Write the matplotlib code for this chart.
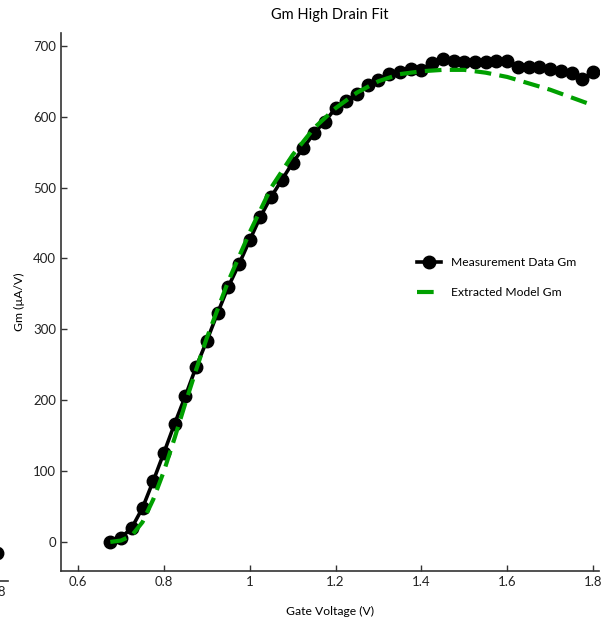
import matplotlib
matplotlib.use("Agg")
import matplotlib.pyplot as plt

plt.rcParams['font.family'] = ['Lato', 'DejaVu Sans']

# Measured transconductance at high drain bias
gate_voltage = [0.675, 0.700, 0.725, 0.750, 0.775, 0.800, 0.825, 0.850, 0.875, 0.900,
                0.925, 0.950, 0.975, 1.000, 1.025, 1.050, 1.075, 1.100, 1.125, 1.150,
                1.175, 1.200, 1.225, 1.250, 1.275, 1.300, 1.325, 1.350, 1.375, 1.400,
                1.425, 1.450, 1.475, 1.500, 1.525, 1.550, 1.575, 1.600, 1.625, 1.650,
                1.675, 1.700, 1.725, 1.750, 1.775, 1.800]
gm_measured = [0, 6, 20, 48, 86, 126, 167, 206, 247, 284,
               323, 360, 392, 426, 459, 487, 511, 535, 556, 577,
               593, 612, 622, 632, 645, 652, 660, 663, 667, 666,
               676, 681, 678, 677, 677, 677, 678, 678, 670, 670,
               670, 667, 664, 661, 653, 663]

# Extracted compact-model transconductance
model_voltage = [0.675, 0.700, 0.725, 0.750, 0.775, 0.800, 0.825, 0.850, 0.875, 0.900,
                 0.950, 1.000, 1.050, 1.100, 1.150, 1.200, 1.250, 1.300, 1.350, 1.400,
                 1.450, 1.500, 1.550, 1.600, 1.650, 1.700, 1.750, 1.800]
gm_model = [0, 2, 9, 28, 60, 100, 147, 196, 243, 288,
            368, 437, 500, 546, 584, 612, 634, 650, 660, 664,
            666, 666, 662, 656, 647, 638, 627, 616]

# Edge of the neighbouring panel
neighbor_x = [1.8]
neighbor_y = [0.051]

fig = plt.figure(figsize=(6.03, 6.23), dpi=100)
W, H = 603, 623

def px_axes(x0, y0, x1, y1):
    return fig.add_axes([x0 / W, 1 - y1 / H, (x1 - x0) / W, (y1 - y0) / H])

ax = px_axes(61, 33, 599, 571)
ax.plot(gate_voltage, gm_measured, color='black', lw=2.6, marker='o', ms=9.0,
        label='Measurement Data Gm', zorder=3)
ax.plot(model_voltage, gm_model, color='#00a000', lw=3.0, dashes=(4, 2),
        label='Extracted Model Gm', zorder=4)

ax.set_xlim(0.56, 1.814)
ax.set_ylim(-41, 718)
ax.set_xticks([0.6, 0.8, 1.0, 1.2, 1.4, 1.6, 1.8])
ax.set_xticklabels(['0.6', '0.8', '1', '1.2', '1.4', '1.6', '1.8'])
ax.set_yticks([0, 100, 200, 300, 400, 500, 600, 700])
for s in ('top', 'right'):
    ax.spines[s].set_visible(False)
for s in ('left', 'bottom'):
    ax.spines[s].set_color('#333333')
    ax.spines[s].set_linewidth(1.2)
ax.tick_params(direction='in', length=4, width=1, colors='#333333',
               labelsize=9.5, labelcolor='#222222', top=False, right=False)
ax.set_xlabel('Gate Voltage (V)', fontsize=8.7, labelpad=13)
ax.set_ylabel('Gm (µA/V)', fontsize=8.7, labelpad=6)
ax.set_title('Gm High Drain Fit', fontsize=10.5, pad=10)
ax.legend(loc='center left', bbox_to_anchor=(0.641, 0.545), frameon=False,
          fontsize=8.7, handlelength=2.0, labelspacing=1.6)

# Sliver of the neighbouring panel on the left
s = 0.2 / 86
axn = px_axes(-192, 33, 8, 581)
axn.plot(neighbor_x, neighbor_y, color='black', marker='o', ms=9.0, lw=0)
axn.set_xlim(1.8 - 189 * s, 1.8 + 11 * s)
axn.set_ylim(0, 1)
axn.set_xticks([1.8])
axn.set_xticklabels(['1.8'])
axn.set_yticks([])
for sp in ('top', 'right', 'left'):
    axn.spines[sp].set_visible(False)
axn.spines['bottom'].set_color('#333333')
axn.spines['bottom'].set_linewidth(1.2)
axn.tick_params(direction='in', length=0, labelsize=9.5, labelcolor='#222222')

fig.savefig('out.png', dpi=100)
